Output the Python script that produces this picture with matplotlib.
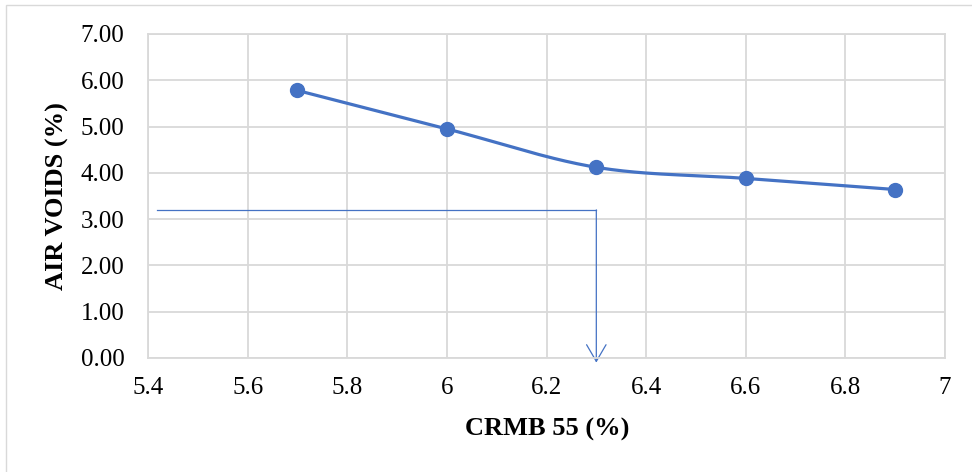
import numpy as np
import matplotlib
matplotlib.use("Agg")
import matplotlib.pyplot as plt
from matplotlib.patches import Rectangle

# Binder content vs. air voids
crmb = [5.7, 6.0, 6.3, 6.6, 6.9]
air_voids = [5.78, 4.95, 4.12, 3.88, 3.64]

x_ticks = [5.4, 5.6, 5.8, 6.0, 6.2, 6.4, 6.6, 6.8, 7.0]
x_tick_labels = ["5.4", "5.6", "5.8", "6", "6.2", "6.4", "6.6", "6.8", "7"]
y_ticks = [0, 1, 2, 3, 4, 5, 6, 7]

# Design air voids read-off: horizontal from the axis, then down to the binder content
design_voids = 3.2
design_start_x = 5.418
design_crmb = 6.3

BLUE = "#4472C4"
GRID = "#D9D9D9"


def smooth_curve(xs, ys, n=40):
    """Cardinal (Catmull-Rom style) Bezier smoothing through the given points."""
    xs = np.asarray(xs, float)
    ys = np.asarray(ys, float)
    px = np.concatenate([[xs[0]], xs, [xs[-1]]])
    py = np.concatenate([[ys[0]], ys, [ys[-1]]])
    out_x, out_y = [], []
    t = np.linspace(0, 1, n)
    for i in range(1, len(px) - 2):
        p0 = np.array([px[i], py[i]])
        p3 = np.array([px[i + 1], py[i + 1]])
        p1 = p0 + (np.array([px[i + 1], py[i + 1]]) - np.array([px[i - 1], py[i - 1]])) / 6
        p2 = p3 - (np.array([px[i + 2], py[i + 2]]) - np.array([px[i], py[i]])) / 6
        b = ((1 - t) ** 3)[:, None] * p0 + (3 * (1 - t) ** 2 * t)[:, None] * p1 \
            + (3 * (1 - t) * t ** 2)[:, None] * p2 + (t ** 3)[:, None] * p3
        out_x.extend(b[:, 0])
        out_y.extend(b[:, 1])
    return np.array(out_x), np.array(out_y)


plt.rcParams["font.family"] = ["Liberation Serif", "DejaVu Serif"]

fig = plt.figure(figsize=(9.72, 4.72), dpi=100)
ax = fig.add_axes([148 / 972, 1 - 358 / 472, 797 / 972, 324 / 472])

# Chart area frame
fig.patches.append(Rectangle((6 / 972, -0.1), 1.2, 1 - 5 / 472 + 0.1,
                             transform=fig.transFigure, fill=False,
                             edgecolor=GRID, linewidth=1.0))

sx, sy = smooth_curve(crmb, air_voids)
ax.plot(sx, sy, color=BLUE, linewidth=2.3, zorder=3, solid_capstyle="round")
ax.plot(crmb, air_voids, linestyle="none", marker="o", markersize=10,
        color=BLUE, zorder=4)

# Read-off lines
ax.plot([design_start_x, design_crmb], [design_voids, design_voids],
        color=BLUE, linewidth=0.9, zorder=2)
ax.annotate("", xy=(design_crmb, -0.1), xytext=(design_crmb, design_voids),
            arrowprops=dict(arrowstyle="->,head_length=1.2,head_width=0.7",
                            mutation_scale=10, color=BLUE, linewidth=0.9,
                            shrinkA=0, shrinkB=0),
            annotation_clip=False, zorder=2)

ax.set_xlim(5.4, 7.0)
ax.set_ylim(0, 7)
ax.set_xticks(x_ticks)
ax.set_xticklabels(x_tick_labels)
ax.set_yticks(y_ticks)
ax.set_yticklabels([f"{v:.2f}" for v in y_ticks])
ax.tick_params(axis="both", length=0, labelsize=18, colors="black")
ax.tick_params(axis="y", pad=17)
ax.tick_params(axis="x", pad=14)

ax.grid(True, color=GRID, linewidth=1.3)
ax.set_axisbelow(True)
for sp in ax.spines.values():
    sp.set_color(GRID)
    sp.set_linewidth(1.3)

fig.text(547 / 972, 1 - 429 / 472, "CRMB 55 (%)", ha="center", va="center",
         fontsize=19, fontweight="bold")
fig.text(57 / 972, 1 - 196 / 472, "AIR VOIDS (%)", ha="center", va="center",
         rotation=90, fontsize=19, fontweight="bold")

fig.savefig("out.png", dpi=100)
